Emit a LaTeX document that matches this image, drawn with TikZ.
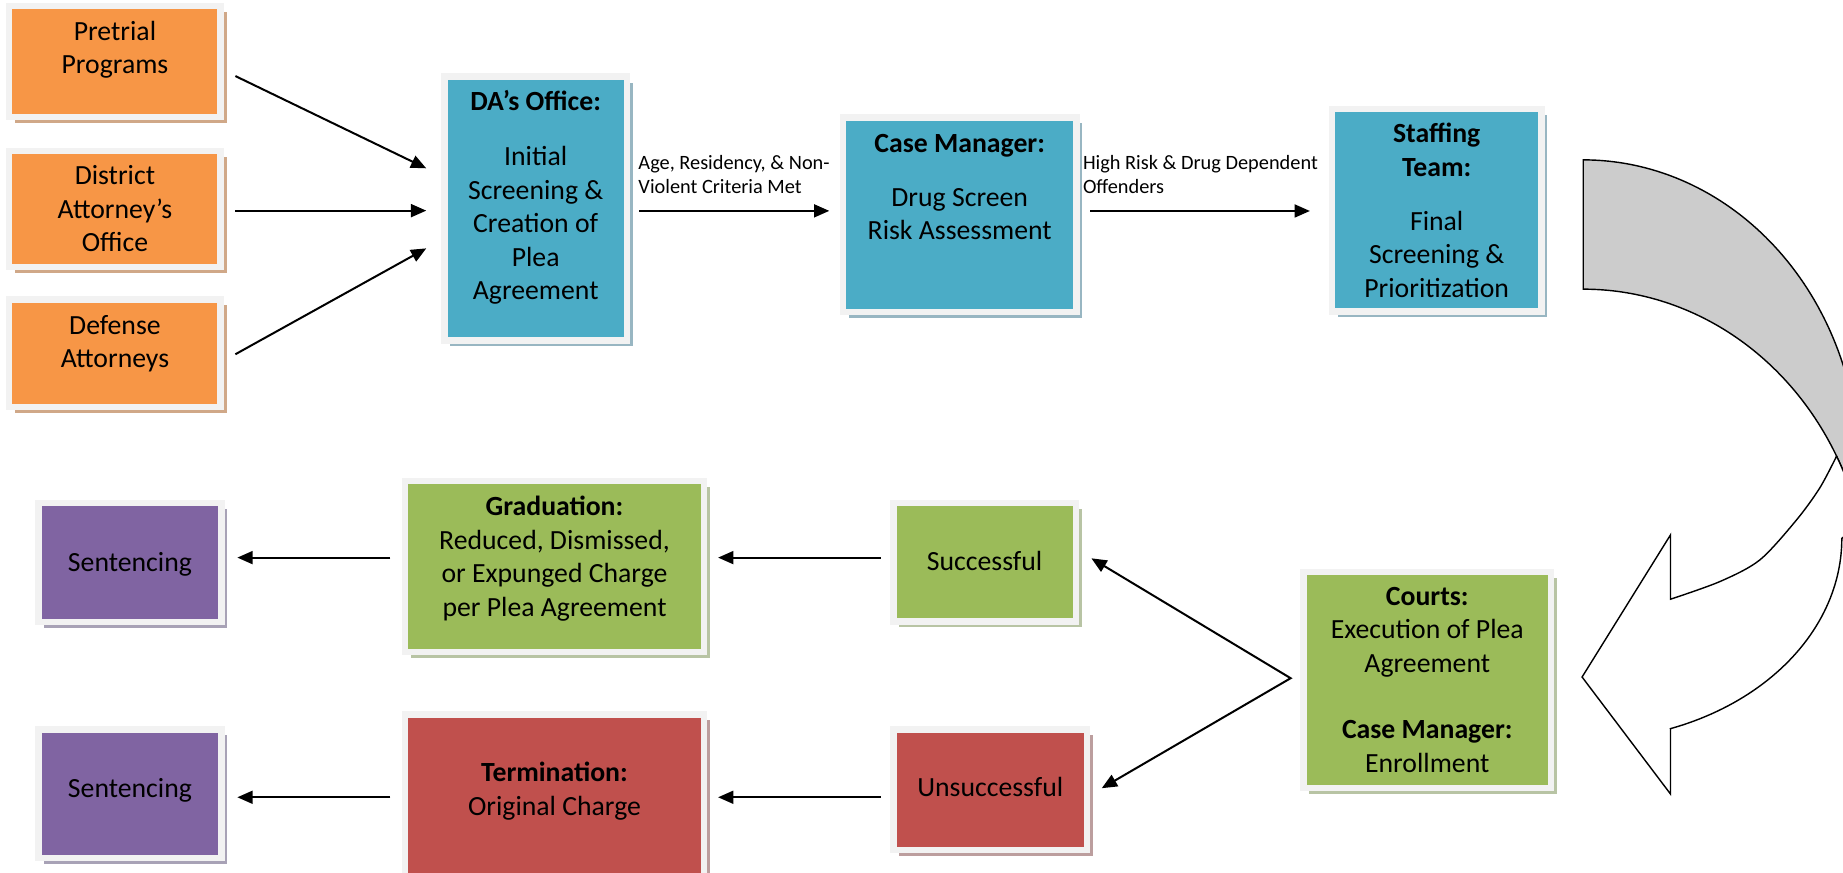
\documentclass[tikz,border=0pt]{standalone}
\usepackage{fontspec}
\setmainfont{Carlito}
\usetikzlibrary{arrows.meta,shadows}
\definecolor{cOrange}{HTML}{F79646}
\definecolor{cBlue}{HTML}{4BACC6}
\definecolor{cGreen}{HTML}{9BBB59}
\definecolor{cRed}{HTML}{C0504D}
\definecolor{cPurple}{HTML}{8064A2}
\definecolor{cFrame}{HTML}{F2F2F2}
\definecolor{sOrange}{HTML}{D0A888}
\definecolor{sBlue}{HTML}{98B6C2}
\definecolor{sGreen}{HTML}{B8C4A4}
\definecolor{sRed}{HTML}{BC9E9E}
\definecolor{sPurple}{HTML}{A8A2B6}
\definecolor{cArrow}{HTML}{CCCCCC}
\tikzset{
  box/.style={rectangle, draw=cFrame, line width=5.5pt, inner sep=0pt},
  shad/.style={drop shadow={shadow xshift=5pt, shadow yshift=-5pt, opacity=1, fill=#1}},
  orangebox/.style={box, fill=cOrange, shad=sOrange},
  bluebox/.style={box, fill=cBlue, shad=sBlue},
  greenbox/.style={box, fill=cGreen, shad=sGreen},
  redbox/.style={box, fill=cRed, shad=sRed},
  purplebox/.style={box, fill=cPurple, shad=sPurple},
  txt/.style={font=\fontsize{23.6}{28.4}\selectfont, align=center, inner sep=0pt, anchor=north, text=black},
  lab/.style={font=\fontsize{17.3}{20.5}\selectfont, align=left, inner sep=0pt, anchor=north west, text=black},
  tipA/.tip={Triangle[length=13pt,width=11pt]},
  conn/.style={line width=1.7pt, -tipA},
  curv/.style={draw=black, line width=1.2pt, line join=miter},
}
\begin{document}
\begin{tikzpicture}[x=1pt,y=-1pt]
\useasboundingbox (0,0) rectangle (1568,742);
\fill[white] (0,0) rectangle (1568,742);

% ---- boxes ----
\node[orangebox, minimum width=179.9pt, minimum height=94.6pt] (pre) at (97.8,52.45) {};
\node[orangebox, minimum width=179.9pt, minimum height=98.8pt] (dist) at (97.8,177.95) {};
\node[orangebox, minimum width=179.9pt, minimum height=91.7pt] (def) at (97.8,300.6) {};
\node[bluebox, minimum width=155.2pt, minimum height=224.5pt] (da) at (455.75,177.5) {};
\node[bluebox, minimum width=198.5pt, minimum height=165.4pt] (cm) at (816.5,182.65) {};
\node[bluebox, minimum width=178.1pt, minimum height=172.3pt] (staff) at (1222.3,178.9) {};
\node[greenbox, minimum width=210.5pt, minimum height=184.1pt] (courts) at (1214.3,578.5) {};
\node[greenbox, minimum width=155.2pt, minimum height=101pt] (succ) at (837.65,478.25) {};
\node[redbox, minimum width=164.9pt, minimum height=102.5pt] (unsucc) at (842.5,671.8) {};
\node[greenbox, minimum width=254.6pt, minimum height=145.3pt] (grad) at (471.75,481.9) {};
\node[redbox, minimum width=254.6pt, minimum height=175pt] (term) at (471.75,695.25) {};
\node[purplebox, minimum width=155.6pt, minimum height=101.3pt] (sen1) at (110.55,478.4) {};
\node[purplebox, minimum width=155.6pt, minimum height=109.5pt] (sen2) at (110.55,675.3) {};

% ---- texts ----
\node[txt] (preT) at (97.8,14) {\strut Pretrial\\Programs};
\node[txt] (distT) at (97.8,137.3) {\strut District\\Attorney’s\\Office};
\node[txt] (defT) at (97.8,264.3) {\strut Defense\\Attorneys};
\node[txt] (daT) at (455.75,74.3) {\strut\textbf{DA’s Office:}\\[18.4pt]Initial\\Screening \&\\Creation of\\Plea\\Agreement};
\node[txt] (cmT) at (816.5,109.8) {\strut\textbf{Case Manager:}\\[17.5pt]Drug Screen\\Risk Assessment};
\node[txt] (staffT) at (1222.3,101.4) {\strut\textbf{Staffing}\\\textbf{Team:}\\[17.7pt]Final\\Screening \&\\Prioritization};
\node[txt] (courtsT) at (1214.3,495) {\strut\textbf{Courts:}\\Execution of Plea\\Agreement\\[28.2pt]\textbf{Case Manager:}\\Enrollment};
\node[txt] (succT) at (837.65,465.7) {\strut Successful};
\node[txt] (unsuccT) at (842.5,657.6) {\strut Unsuccessful};
\node[txt] (gradT) at (471.75,418.9) {\strut\textbf{Graduation:}\\Reduced, Dismissed,\\or Expunged Charge\\per Plea Agreement};
\node[txt] (termT) at (471.75,644.9) {\strut\textbf{Termination:}\\Original Charge};
\node[txt] (sen1T) at (110.55,466.2) {\strut Sentencing};
\node[txt] (sen2T) at (110.55,658.5) {\strut Sentencing};
\node[lab] (lab1) at (543,129.5) {\strut Age, Residency, \& Non-\\Violent Criteria Met};
\node[lab] (lab2) at (921.2,129.5) {\strut High Risk \& Drug Dependent\\Offenders};

% ---- connectors ----
\draw[conn] ([shift={(9.75,12.25)}]pre.east) -- ([shift={(-12.75,-34.3)}]da.west);
\draw[conn] ([shift={(9.75,1.25)}]dist.east) -- ([shift={(-12.75,1.7)}]da.west);
\draw[conn] ([shift={(9.75,0.8)}]def.east) -- ([shift={(-12.75,33.8)}]da.west);
\draw[conn] ([shift={(7.95,1.9)}]da.east) -- ([shift={(-8.95,-3.25)}]cm.west);
\draw[conn] ([shift={(9.25,-3.15)}]cm.east) -- ([shift={(-16.05,0.6)}]staff.west);
\coordinate (cj) at ([shift={(-8.25,-1.5)}]courts.west);
\draw[line width=1.7pt, line join=miter, tipA-tipA]
  ([shift={(10.55,-3.25)}]succ.east) -- (cj) -- ([shift={(9.65,-1.2)}]unsucc.east);
\draw[conn] ([shift={(-8.05,-3.85)}]succ.west) -- ([shift={(9.15,-7.5)}]grad.east);
\draw[conn] ([shift={(-8.05,6.5)}]unsucc.west) -- ([shift={(9.15,-16.95)}]term.east);
\draw[conn] ([shift={(-9.55,-7.5)}]grad.west) -- ([shift={(10.85,-4)}]sen1.east);
\draw[conn] ([shift={(-9.55,-16.95)}]term.west) -- ([shift={(10.85,3)}]sen2.east);

% ---- big curved arrow ----
\begin{scope}
\clip (0,0) rectangle (1568,742);
\filldraw[curv, fill=cArrow]
  plot[domain=-90:12, samples=80, variable=\t] ({1347+235*cos(\t)},{400+264*sin(\t)})
  -- plot[domain=-12:-90, samples=80, variable=\t] ({1347+243*cos(\t)},{510+264*sin(\t)})
  -- cycle;
\filldraw[curv, fill=white]
  plot[smooth] coordinates {(1562.5,388.1) (1548.3,415) (1528.4,442.4) (1497.2,476.4) (1463.2,494.8) (1421.2,509.8)}
  -- (1421.2,455.1) -- (1346,576) -- (1421.2,675.5) -- (1421.2,620.1)
  -- plot[domain=70.3:0, samples=50, variable=\t] ({1347+220*cos(\t)},{458+172*sin(\t)})
  -- (1590,440)
  -- plot[domain=-12:-27.5, samples=20, variable=\t] ({1347+243*cos(\t)},{510+264*sin(\t)})
  -- cycle;
\end{scope}
\end{tikzpicture}
\end{document}
